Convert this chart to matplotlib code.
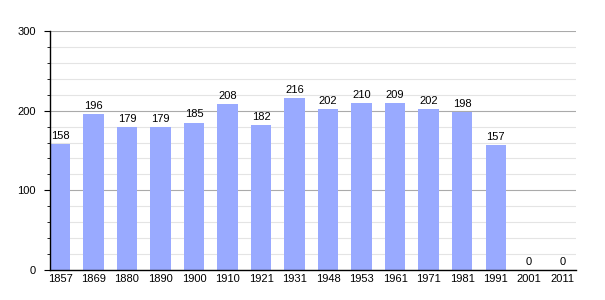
import matplotlib
matplotlib.use("Agg")
import matplotlib.pyplot as plt
import numpy as np

# census years and population
years = ["1857", "1869", "1880", "1890", "1900", "1910", "1921", "1931",
         "1948", "1953", "1961", "1971", "1981", "1991", "2001", "2011"]
population = [158, 196, 179, 179, 185, 208, 182, 216,
              202, 210, 209, 202, 198, 157, 0, 0]

fig = plt.figure(figsize=(6.05, 3.0), dpi=100)
ax = fig.add_axes([0.0826, 0.1, 0.8694, 0.7967])

x = np.arange(len(years))
ax.bar(x, population, width=0.6, color="#99aaff", zorder=2)

for xi, v in zip(x, population):
    ax.text(xi, v + 4, str(v), ha="center", va="bottom", fontsize=8,
            family="Liberation Sans")

ax.set_xlim(-0.3, 15.4)
ax.set_ylim(0, 300)

ax.set_yticks([0, 100, 200, 300])
ax.set_yticks(np.arange(0, 301, 20), minor=True)
ax.grid(axis="y", which="major", color="#aaaaaa", linewidth=0.8, zorder=0)
ax.grid(axis="y", which="minor", color="#e4e4e4", linewidth=0.8, zorder=0)

ax.set_xticks(x)
ax.set_xticklabels(years)
ax.tick_params(axis="x", length=0, pad=3, labelsize=8)
ax.tick_params(axis="y", which="major", length=4, labelsize=8, pad=6)
ax.tick_params(axis="y", which="minor", length=2.5)
for lab in ax.get_xticklabels() + ax.get_yticklabels():
    lab.set_family("Liberation Sans")

ax.spines["top"].set_visible(False)
ax.spines["right"].set_visible(False)
ax.spines["left"].set_linewidth(1.0)
ax.spines["bottom"].set_linewidth(1.0)

fig.savefig("out.png", dpi=100)
